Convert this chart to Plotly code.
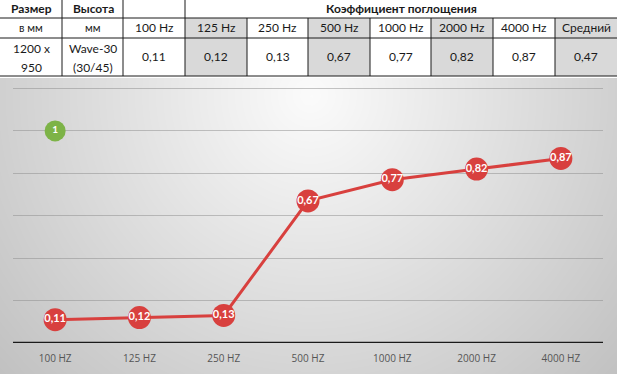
import numpy as np
import plotly.graph_objects as go

# ---------------- data ----------------
categories = ["100 HZ", "125 HZ", "250 HZ", "500 HZ", "1000 HZ", "2000 HZ", "4000 HZ"]
values = [0.11, 0.12, 0.13, 0.67, 0.77, 0.82, 0.87]
table_freqs = ["100 Hz", "125 Hz", "250 Hz", "500 Hz", "1000 Hz", "2000 Hz", "4000 Hz", "Средний"]
table_values = [0.11, 0.12, 0.13, 0.67, 0.77, 0.82, 0.87, 0.47]
shaded = [False, True, False, True, False, True, False, True]
badge_label = "1"

W, H = 617, 374
RED = "#d8403e"
FONT = "Lato, 'Open Sans', sans-serif"


def px(x):
    return x / W


def py(y):
    return 1 - y / H


def fmt(v):
    return f"{v:.2f}".replace(".", ",")


fig = go.Figure()

# ---------------- background gradient (decorative) ----------------
gx = np.linspace(0, W, 80)
gy = np.linspace(78, H, 50)
XX, YY = np.meshgrid(gx, gy)
r = np.sqrt(((XX - 310) / 330) ** 2 + ((YY - 95) / 330) ** 2)
Z = np.clip(251 - 46 * r, 185, 252)
fig.add_trace(go.Heatmap(
    x=gx, y=gy, z=Z, zmin=0, zmax=255, zsmooth="best",
    colorscale=[[0, "rgb(0,0,0)"], [1, "rgb(255,255,255)"]],
    showscale=False, hoverinfo="skip", xaxis="x", yaxis="y",
))

# ---------------- data line ----------------
fig.add_trace(go.Scatter(
    x=categories, y=values, mode="lines+markers+text",
    line=dict(color=RED, width=3),
    marker=dict(size=23, color=RED),
    text=[fmt(v) for v in values], textposition="middle center",
    textfont=dict(color="white", size=11, family="Lato, sans-serif", weight="bold"),
    xaxis="x2", yaxis="y2", hoverinfo="skip", cliponaxis=False,
))

# badge
fig.add_trace(go.Scatter(
    x=[categories[0]], y=[1.0], mode="markers+text",
    marker=dict(size=21, color="#7db347"),
    text=[f"<b>{badge_label}</b>"], textposition="middle center",
    textfont=dict(color="white", size=10, family=FONT),
    xaxis="x2", yaxis="y2", hoverinfo="skip", cliponaxis=False,
))

# ---------------- table ----------------
shapes = []
annotations = []
col_edges = [0, 62, 123, 185, 247, 308, 370, 431, 493, 555, 617]
row_edges = [0, 18, 38, 76]

shapes.append(dict(type="rect", xref="paper", yref="paper", x0=0, x1=1,
                   y0=py(77), y1=1, fillcolor="white", line=dict(width=0), layer="above"))
for i, s in enumerate(shaded):
    if s:
        x0, x1 = col_edges[i + 2], col_edges[i + 3]
        shapes.append(dict(type="rect", xref="paper", yref="paper",
                           x0=px(x0), x1=px(x1), y0=py(row_edges[3]), y1=py(row_edges[1]),
                           fillcolor="#d9d9d9", line=dict(width=0), layer="above"))


def line(x0, y0, x1, y1, w=1):
    shapes.append(dict(type="line", xref="paper", yref="paper",
                       x0=px(x0), y0=py(y0), x1=px(x1), y1=py(y1),
                       line=dict(color="#1a1a1a", width=w), layer="above"))


for y in row_edges[1:]:
    line(0, y, W, y)
line(62, 0, 62, 76)
line(123, 0, 123, 76)
line(185, 0, 185, 76)
for x in col_edges[4:-1]:
    line(x, 18, x, 76)


def txt(x, y, s, size=12, bold=False, color="#1a1a1a"):
    annotations.append(dict(xref="paper", yref="paper", x=px(x), y=py(y),
                            text=f"<b>{s}</b>" if bold else s, showarrow=False,
                            xanchor="center", yanchor="middle",
                            font=dict(size=size, family=FONT, color=color)))


txt(31, 9, "Размер", 12, True)
txt(93, 9, "Высота", 12, True)
txt(401, 9, "Коэффициент поглощения", 12, True)
txt(31, 28, "в мм", 11)
txt(93, 28, "мм", 11)
txt(31, 48, "1200 x", 12)
txt(31, 67, "950", 12)
txt(93, 48, "Wave-30", 12)
txt(93, 67, "(30/45)", 12)
for i, (f, v) in enumerate(zip(table_freqs, table_values)):
    cx = (col_edges[i + 2] + col_edges[i + 3]) / 2
    txt(cx, 28, f, 12)
    txt(cx, 57, fmt(v), 12)

# ---------------- layout ----------------
fig.update_layout(
    width=W, height=H,
    margin=dict(l=0, r=0, t=0, b=0),
    paper_bgcolor="white", plot_bgcolor="rgba(0,0,0,0)",
    showlegend=False,
    font=dict(family=FONT),
    xaxis=dict(domain=[0, 1], range=[0, W], visible=False, fixedrange=True),
    yaxis=dict(domain=[0, py(78)], range=[H, 78], visible=False, fixedrange=True),
    xaxis2=dict(domain=[px(13), px(603)], range=[-0.5, 6.5], anchor="y2",
                showgrid=False, showline=False, zeroline=False, fixedrange=True,
                tickfont=dict(size=10, color="#555555", family="'Open Sans', sans-serif"),
                ticks="", ticklabelstandoff=8),
    yaxis2=dict(domain=[py(343), py(80)], range=[0, 1.24], anchor="x2", fixedrange=True,
                tickvals=[0.2, 0.4, 0.6, 0.8, 1.0, 1.2], showticklabels=False,
                showgrid=True, gridcolor="rgba(140,140,140,0.5)", gridwidth=1,
                zeroline=False, showline=False),
    shapes=shapes + [dict(type="line", xref="x2 domain", yref="y2", x0=0, x1=1, y0=0, y1=0,
                          line=dict(color="#1a1a1a", width=2.5))],
    annotations=annotations,
)

fig.write_html(
    "out.html",
    config={"displayModeBar": False, "staticPlot": True},
    post_script="document.body.style.margin='0';document.body.style.padding='0';"
                "document.body.style.overflow='hidden';",
)
